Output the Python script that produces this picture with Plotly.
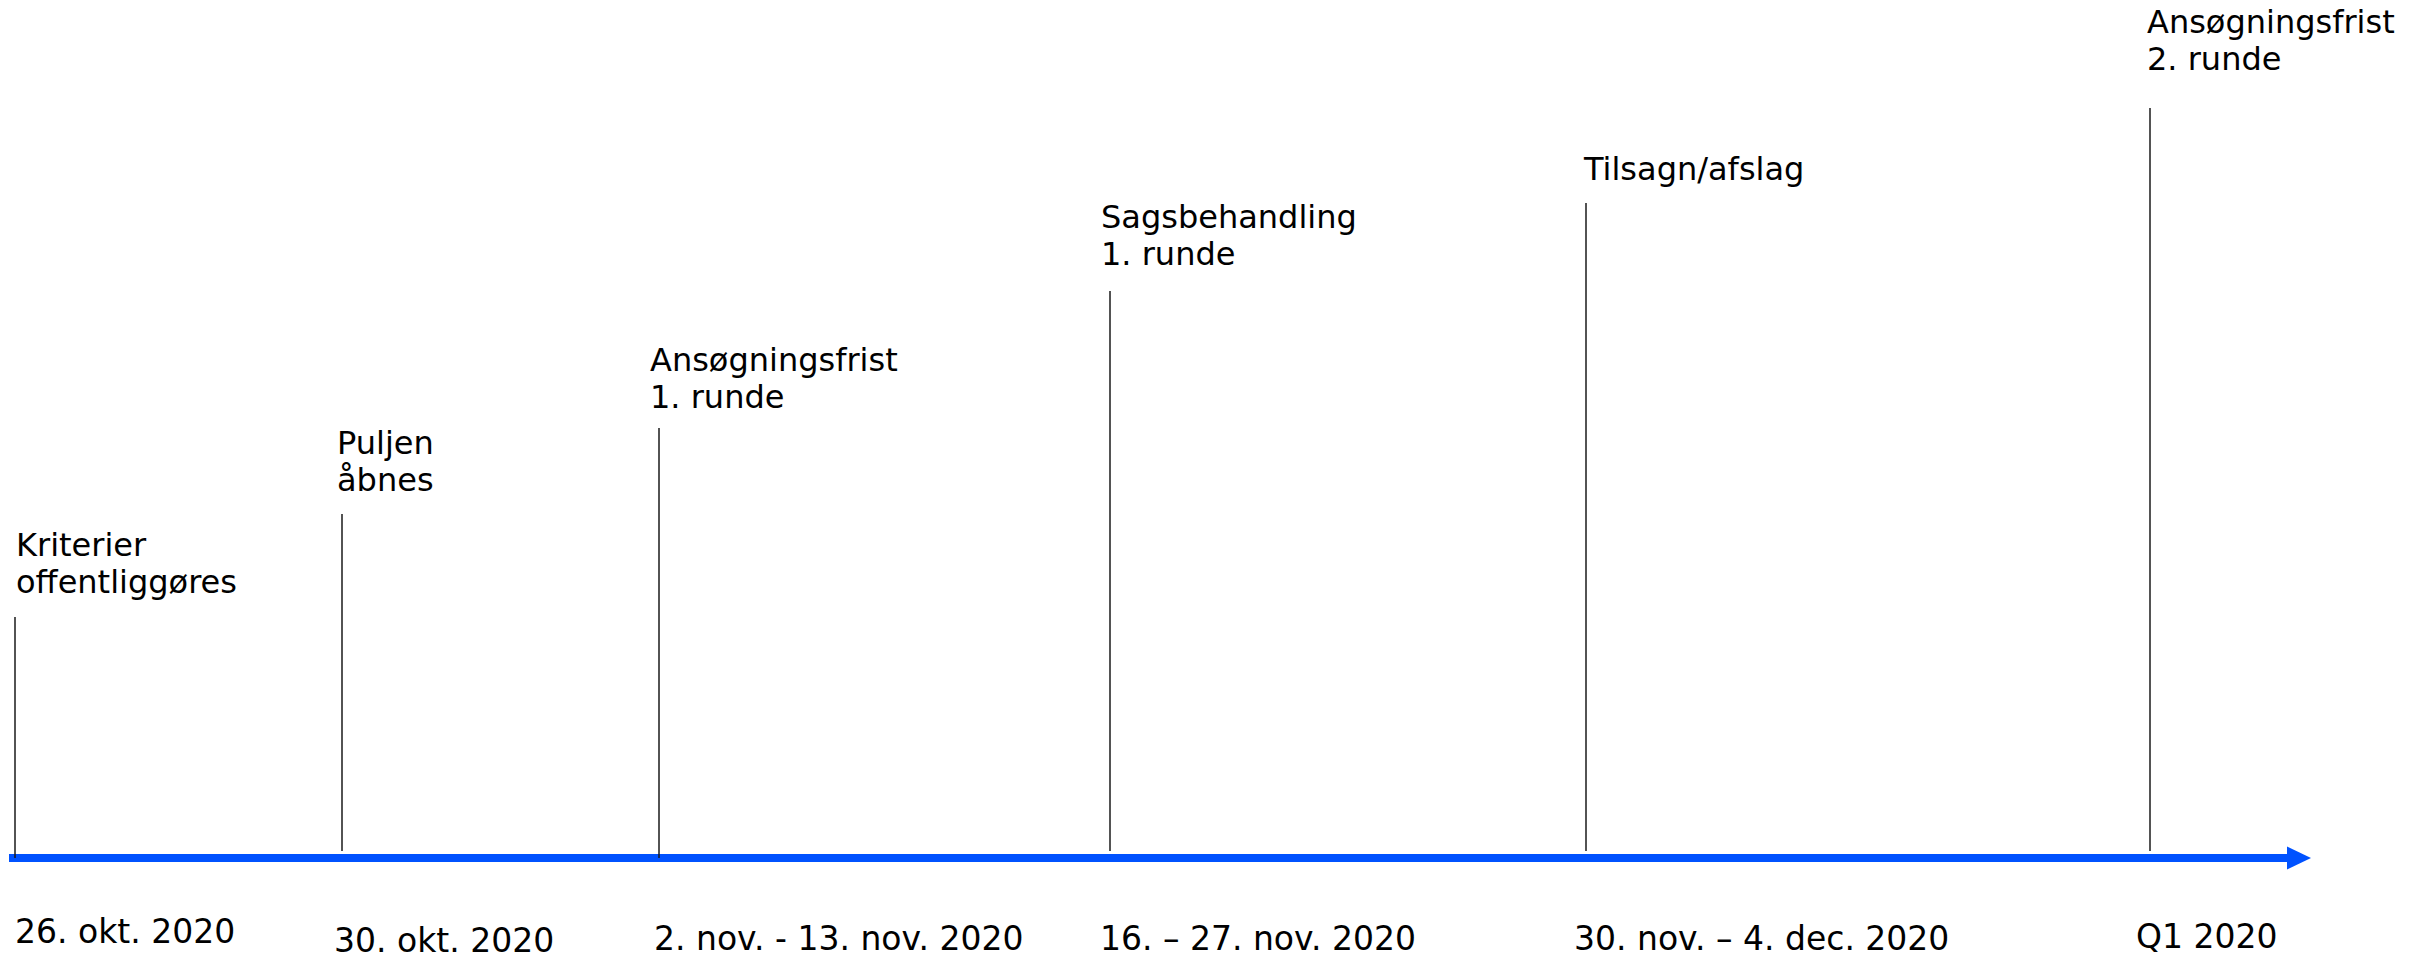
import plotly.graph_objects as go

# ---- data ----
event_pos = [15, 342, 659, 1110, 1586, 2150]          # position along the timeline
line_height = [241, 344, 430, 567, 655, 750]          # height of the marker line above the axis
line_base = [0, 7, 0, 7, 7, 7]
top_labels = [["Kriterier", "offentliggøres"], ["Puljen", "åbnes"], ["Ansøgningsfrist", "1. runde"],
              ["Sagsbehandling", "1. runde"], ["Tilsagn/afslag"], ["Ansøgningsfrist", "2. runde"]]
top_label_x = [14, 335, 648, 1099, 1581, 2145]
top_label_y = [313, 415, 498, 641, 689, 836]
bottom_labels = ["26. okt. 2020", "30. okt. 2020", "2. nov. - 13. nov. 2020",
                 "16. – 27. nov. 2020", "30. nov. – 4. dec. 2020", "Q1 2020"]
bottom_label_x = [13, 332, 652, 1098, 1572, 2134]
bottom_label_y = [-73, -82, -80, -80, -80, -78]
axis_start, axis_end = 9, 2311

W, H = 2415, 956
AXIS_PX = 858
FONT = "DejaVu Sans"
FS_TOP, FS_BOT = 32, 33
LINE_GAP = 37
BLUE = "#0052FF"

fig = go.Figure()

# timeline axis with arrow head
head_len, head_half = 24, 11.5
fig.add_trace(go.Scatter(x=[axis_start, axis_end - head_len + 2], y=[0, 0], mode="lines",
                         line=dict(color=BLUE, width=8), hoverinfo="skip", showlegend=False))
fig.add_trace(go.Scatter(x=[axis_end - head_len, axis_end, axis_end - head_len, axis_end - head_len],
                         y=[head_half, 0, -head_half, head_half], mode="lines", fill="toself",
                         fillcolor=BLUE, line=dict(color=BLUE, width=0), hoverinfo="skip",
                         showlegend=False))

# vertical event lines
for x, h, b in zip(event_pos, line_height, line_base):
    fig.add_trace(go.Scatter(x=[x, x], y=[b, h], mode="lines",
                             line=dict(color="#1a1a1a", width=1.5), hoverinfo="skip",
                             showlegend=False))

for x, y, lines in zip(top_label_x, top_label_y, top_labels):
    for i, t in enumerate(lines):
        fig.add_annotation(x=x, y=y - i * LINE_GAP, text=t, showarrow=False, xanchor="left",
                           yanchor="middle", align="left",
                           font=dict(family=FONT, size=FS_TOP, color="#000"))
for x, y, t in zip(bottom_label_x, bottom_label_y, bottom_labels):
    fig.add_annotation(x=x, y=y, text=t, showarrow=False, xanchor="left", yanchor="middle",
                       align="left", font=dict(family=FONT, size=FS_BOT, color="#000"))

fig.update_layout(width=W, height=H, margin=dict(l=0, r=0, t=0, b=0),
                  paper_bgcolor="white", plot_bgcolor="white",
                  xaxis=dict(range=[0, W], visible=False, fixedrange=True),
                  yaxis=dict(range=[-(H - AXIS_PX), AXIS_PX], visible=False, fixedrange=True))

fig.write_html("out.html", config={"displayModeBar": False},
               post_script="document.body.style.margin='0';document.body.style.overflow='hidden';")
